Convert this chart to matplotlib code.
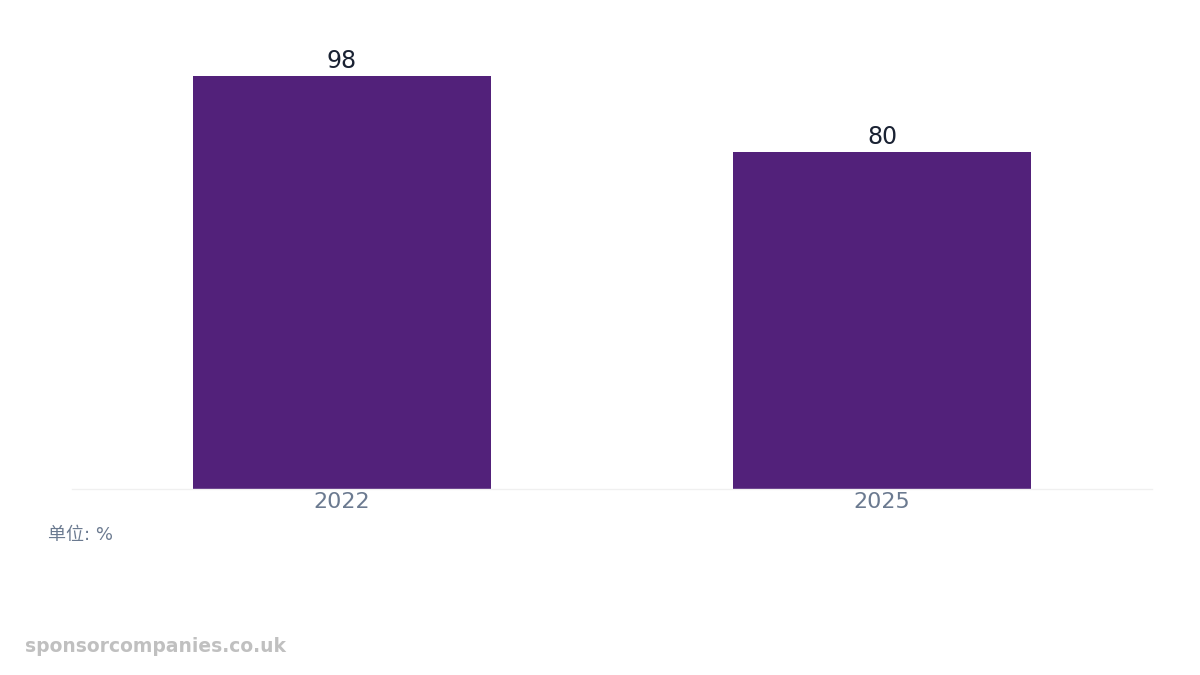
import matplotlib
matplotlib.use("Agg")
import matplotlib.pyplot as plt

plt.rcParams["font.family"] = ["DejaVu Sans", "Noto Sans CJK SC"]

categories = ["2022", "2025"]
values = [98, 80]
unit_label = "单位: %"
watermark = "sponsorcompanies.co.uk"

bar_color = "#52217a"
fig = plt.figure(figsize=(12, 6.75), dpi=100)
ax = fig.add_axes([72/1200, 1 - 489/675, 1080/1200, 460/675])

x = list(range(len(categories)))
bars = ax.bar(x, values, width=0.552, color=bar_color, zorder=2)
ax.set_xlim(-0.5, len(categories) - 0.5)
ax.set_ylim(0, 460 / (413 / 98))

for xi, v in zip(x, values):
    ax.annotate(str(v), (xi, v), xytext=(0, 2), textcoords="offset points",
                ha="center", va="bottom", fontsize=17, color="#1a2233")

ax.set_xticks(x)
ax.set_xticklabels(categories, fontsize=16, color="#6b7a90")
ax.tick_params(axis="x", length=0, pad=2)
ax.set_yticks([])
for s in ["top", "right", "left"]:
    ax.spines[s].set_visible(False)
ax.spines["bottom"].set_color("#f0f0f0")
ax.spines["bottom"].set_linewidth(1)

fig.text(48/1200, 1 - 535/675, unit_label, fontsize=13, color="#6b7a90",
         ha="left", va="center")
fig.text(25/1200, 1 - 646/675, watermark, fontsize=13.5, color="#c0c0c0",
         ha="left", va="center", fontweight="bold")

fig.savefig("out.png", dpi=100, facecolor="white")
